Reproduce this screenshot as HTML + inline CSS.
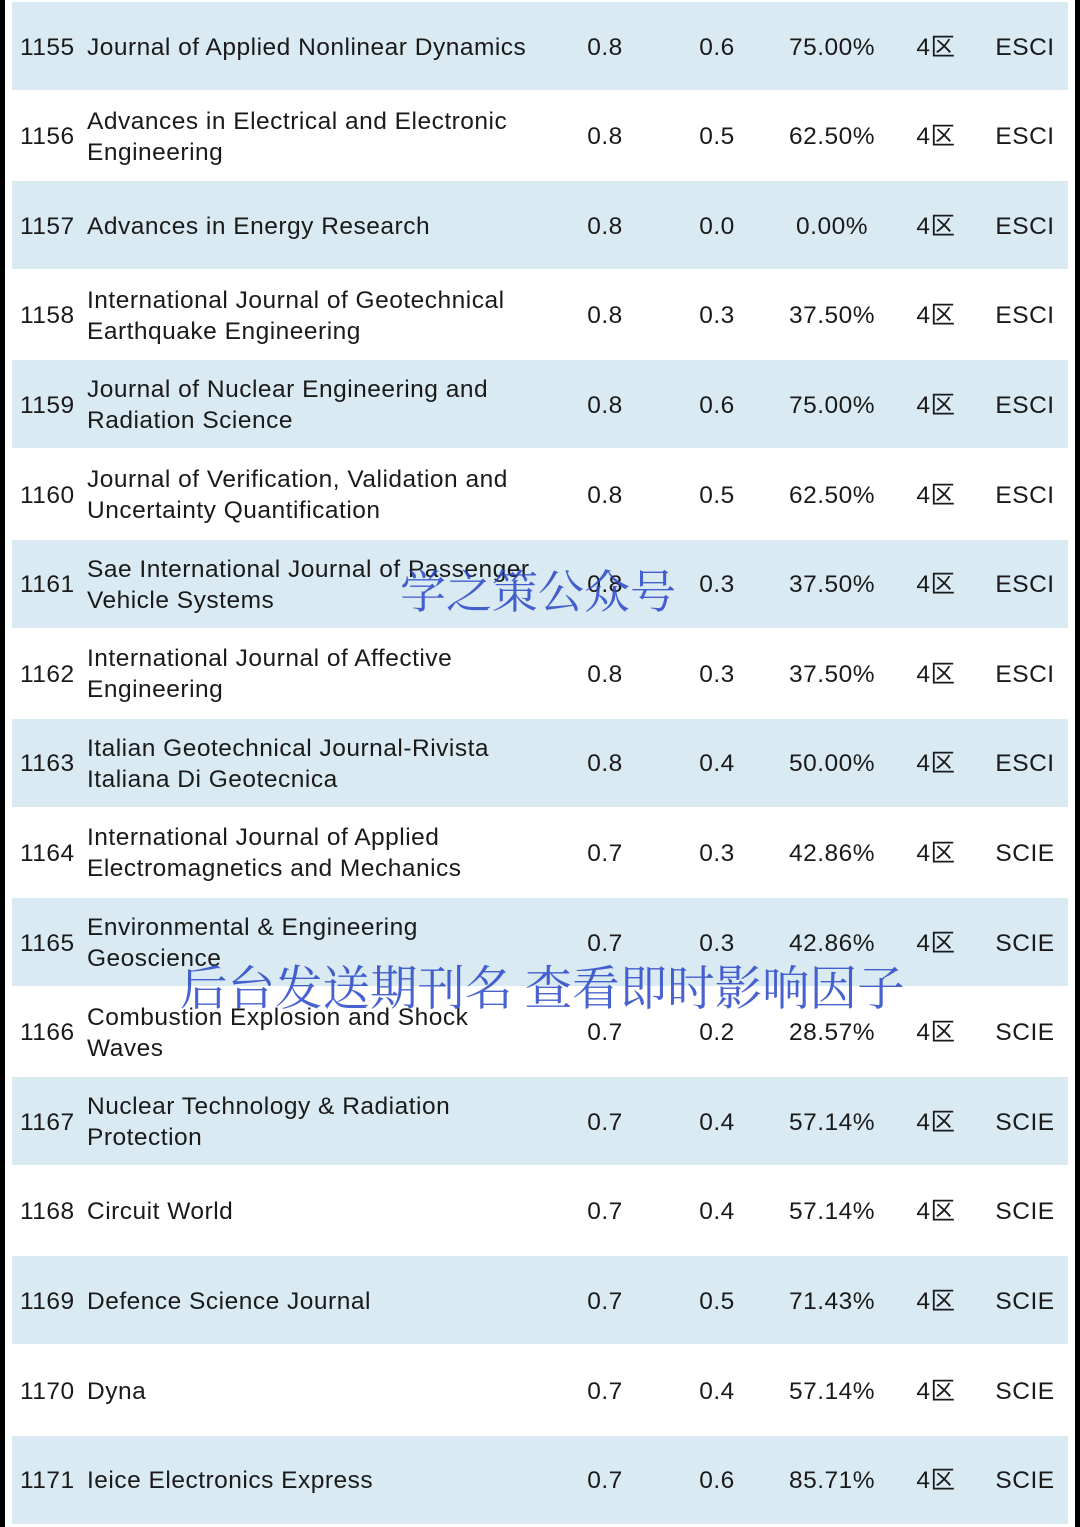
<!DOCTYPE html>
<html><head><meta charset="utf-8"><style>
body{margin:0;width:1080px;height:1527px;background:#fff;position:relative;overflow:hidden;font-family:"Liberation Sans","Noto Sans CJK SC",sans-serif;color:#1a1a1a}
.bar{position:absolute;top:0;height:1527px;width:5px;background:#000}
.row{position:absolute;left:12px;width:1056px;height:88px}
.row.b{background:#d9eaf2}
.c{position:absolute;top:1px;height:88px;display:flex;align-items:center;font-size:24.5px;letter-spacing:0.5px;line-height:31px;white-space:nowrap}
.wm{position:absolute;font-family:"Noto Serif CJK SC",serif;color:rgba(40,70,200,0.85);white-space:nowrap}
</style></head><body>
<div class="bar" style="left:0"></div>
<div class="bar" style="right:0"></div>
<div id="t"></div>
<div class="wm" style="left:400px;top:556px;font-size:46px">学之策公众号</div>
<div class="wm" style="left:180px;top:950px;font-size:47.5px">后台发送期刊名 查看即时影响因子</div>
<script>
const ranks=[1155,1156,1157,1158,1159,1160,1161,1162,1163,1164,1165,1166,1167,1168,1169,1170,1171];
const names=["Journal of Applied Nonlinear Dynamics","Advances in Electrical and Electronic<br>Engineering","Advances in Energy Research","International Journal of Geotechnical<br>Earthquake Engineering","Journal of Nuclear Engineering and<br>Radiation Science","Journal of Verification, Validation and<br>Uncertainty Quantification","Sae International Journal of Passenger<br>Vehicle Systems","International Journal of Affective<br>Engineering","Italian Geotechnical Journal-Rivista<br>Italiana Di Geotecnica","International Journal of Applied<br>Electromagnetics and Mechanics","Environmental &amp; Engineering<br>Geoscience","Combustion Explosion and Shock<br>Waves","Nuclear Technology &amp; Radiation<br>Protection","Circuit World","Defence Science Journal","Dyna","Ieice Electronics Express"];
const ifs=["0.8","0.8","0.8","0.8","0.8","0.8","0.8","0.8","0.8","0.7","0.7","0.7","0.7","0.7","0.7","0.7","0.7"];
const v2=["0.6","0.5","0.0","0.3","0.6","0.5","0.3","0.3","0.4","0.3","0.3","0.2","0.4","0.4","0.5","0.4","0.6"];
const pct=["75.00%","62.50%","0.00%","37.50%","75.00%","62.50%","37.50%","37.50%","50.00%","42.86%","42.86%","28.57%","57.14%","57.14%","71.43%","57.14%","85.71%"];
const zone=ranks.map(()=> "4区");
const idx=["ESCI","ESCI","ESCI","ESCI","ESCI","ESCI","ESCI","ESCI","ESCI","SCIE","SCIE","SCIE","SCIE","SCIE","SCIE","SCIE","SCIE"];
const t=document.getElementById('t');
ranks.forEach((r,i)=>{
 const row=document.createElement('div');
 row.className='row'+(i%2==0?' b':'');
 row.style.top=(2+i*89.6)+'px';
 
 
 const cells=[[20,ranks[i],'rank',false],[87,names[i],'journal-name',false],[605,ifs[i],'impact-factor',true],[717,v2[i],'value',true],[832,pct[i],'percentage',true],[936,zone[i],'zone',true],[1025,idx[i],'index',true]];
 cells.forEach(([x,txt,nm,centered])=>{
  const c=document.createElement('div');c.className='c';
  if(centered){c.style.left=(x-12-60)+'px';c.style.width='120px';c.style.justifyContent='center';}
  else c.style.left=(x-12)+'px';
  c.innerHTML=txt;
  
  
  row.appendChild(c);
 });
 t.appendChild(row);
});
</script>
</body></html>
